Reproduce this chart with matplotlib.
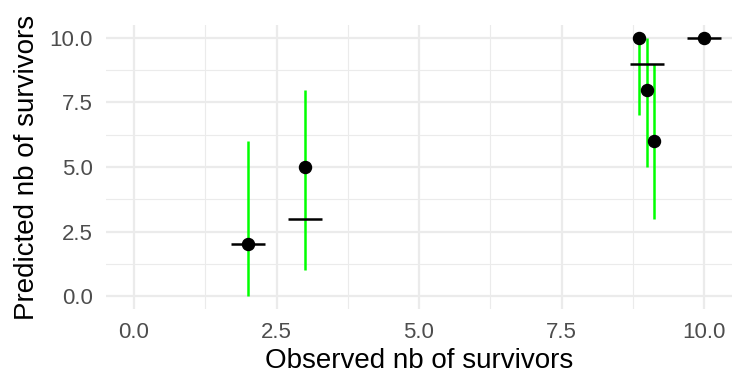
import matplotlib
matplotlib.use('Agg')
import matplotlib.pyplot as plt
from matplotlib.ticker import MultipleLocator

plt.rcParams['font.family'] = ['Liberation Sans', 'DejaVu Sans']

# observed vs predicted survivors (points jittered horizontally)
obs_x = [2.0, 3.0, 8.86, 9.0, 9.12, 10.0]
pred_y = [2, 5, 10, 8, 6, 10]
pred_low = [0, 1, 7, 5, 3, 10]
pred_high = [6, 8, 10, 10, 9, 10]

# black reference segments at observed value
seg_x = [2, 3, 9, 10]
seg_y = [2, 3, 9, 10]
seg_half = 0.3

fig = plt.figure(figsize=(7.5, 3.77), dpi=100)
ax = fig.add_axes([105.5 / 750, 1 - 309 / 377, (732.5 - 105.5) / 750, (309 - 25) / 377])

ax.set_xlim(-0.5, 10.5)
ax.set_ylim(-0.5, 10.5)
ax.xaxis.set_major_locator(MultipleLocator(2.5))
ax.yaxis.set_major_locator(MultipleLocator(2.5))
ax.xaxis.set_minor_locator(MultipleLocator(1.25))
ax.yaxis.set_minor_locator(MultipleLocator(1.25))
ax.xaxis.set_major_formatter(plt.FuncFormatter(lambda v, p: f'{v:.1f}'))
ax.yaxis.set_major_formatter(plt.FuncFormatter(lambda v, p: f'{v:.1f}'))
ax.grid(which='major', color='#EBEBEB', linewidth=1.6)
ax.grid(which='minor', color='#EBEBEB', linewidth=0.8)
ax.set_axisbelow(True)
for s in ax.spines.values():
    s.set_visible(False)
ax.tick_params(which='both', length=0, labelsize=16, labelcolor='#4D4D4D')
ax.tick_params(axis='x', pad=9)
ax.tick_params(axis='y', pad=9)

ax.vlines(obs_x, pred_low, pred_high, color='#00FF00', linewidth=1.8, zorder=2)
ax.hlines(seg_y, [x - seg_half for x in seg_x], [x + seg_half for x in seg_x],
          color='black', linewidth=1.8, zorder=3)
ax.scatter(obs_x, pred_y, s=75, color='black', zorder=4)

ax.set_xlabel('Observed nb of survivors', fontsize=20, labelpad=4)
ax.set_ylabel('Predicted nb of survivors', fontsize=20, labelpad=7)

fig.savefig('out.png', dpi=100)
